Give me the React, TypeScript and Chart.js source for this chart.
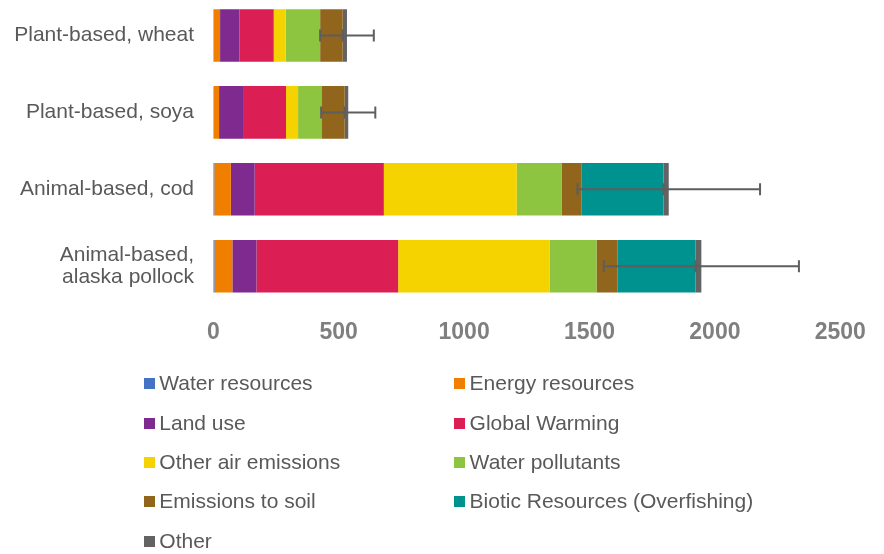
import React, { useEffect, useRef } from "react";
import { Chart, registerables } from "chart.js";

Chart.register(...registerables);

// Products compared (the last label wraps onto two lines)
const categories: (string | string[])[] = [
  "Plant-based, wheat",
  "Plant-based, soya",
  "Animal-based, cod",
  ["Animal-based,", "alaska pollock"],
];

// Impact contributions per product, in the order of the categories above
const waterResources = [2, 2, 4, 5];
const energyResources = [25, 21, 66, 71];
const landUse = [77, 99, 95, 96];
const globalWarming = [137, 168, 515, 565];
const otherAirEmissions = [48, 48, 530, 605];
const waterPollutants = [137, 93, 180, 186];
const emissionsToSoil = [90, 93, 79, 83];
const bioticResources = [0, 0, 326, 312];
const otherImpacts = [17, 14, 21, 23];

// Symmetric uncertainty around each product's total
const uncertainty = [107, 108, 364, 389];

const axisTicks = [0, 500, 1000, 1500, 2000, 2500];

const series = [
  { label: "Water resources", values: waterResources, color: "#4472C4" },
  { label: "Energy resources", values: energyResources, color: "#F07F00" },
  { label: "Land use", values: landUse, color: "#7F2A8F" },
  { label: "Global Warming", values: globalWarming, color: "#DB1F55" },
  { label: "Other air emissions", values: otherAirEmissions, color: "#F5D300" },
  { label: "Water pollutants", values: waterPollutants, color: "#8DC540" },
  { label: "Emissions to soil", values: emissionsToSoil, color: "#91651C" },
  { label: "Biotic Resources (Overfishing)", values: bioticResources, color: "#00928F" },
  { label: "Other", values: otherImpacts, color: "#636363" },
];

const FONT = "'Liberation Sans', Arial, Helvetica, sans-serif";

const errorBarPlugin = {
  id: "errorBars",
  afterDatasetsDraw(chart: any) {
    const { ctx } = chart;
    const x = chart.scales.x;
    const y = chart.scales.y;
    ctx.save();
    ctx.strokeStyle = "#5E5E5E";
    ctx.lineWidth = 2;
    categories.forEach((_, i) => {
      const total = series.reduce((sum, s) => sum + s.values[i], 0);
      const yc = y.getPixelForValue(i);
      const xl = x.getPixelForValue(total - uncertainty[i]);
      const xr = x.getPixelForValue(total + uncertainty[i]);
      const xm = x.getPixelForValue(total - otherImpacts[i]);
      ctx.beginPath();
      ctx.moveTo(xl, yc);
      ctx.lineTo(xr, yc);
      for (const cx of [xl, xr, xm]) {
        ctx.moveTo(cx, yc - 6);
        ctx.lineTo(cx, yc + 6);
      }
      ctx.stroke();
    });
    ctx.restore();
  },
};

function ImpactChart() {
  const canvasRef = useRef<HTMLCanvasElement | null>(null);

  useEffect(() => {
    if (!canvasRef.current) return;
    const chart = new Chart(canvasRef.current, {
      type: "bar",
      data: {
        labels: categories,
        datasets: series.map((s) => ({
          label: s.label,
          data: s.values,
          backgroundColor: s.color,
          borderWidth: 0,
          barPercentage: 0.683,
          categoryPercentage: 1,
        })),
      },
      options: {
        indexAxis: "y",
        responsive: false,
        devicePixelRatio: 1,
        animation: false,
        layout: { padding: { left: 0, right: 43.7, top: 0, bottom: 0 } },
        plugins: {
          legend: { display: false },
          tooltip: { enabled: false },
        },
        scales: {
          x: {
            type: "linear",
            stacked: true,
            min: 0,
            max: 2500,
            grid: { display: false, drawTicks: false },
            border: { display: false },
            ticks: {
              padding: 13.8,
              color: "#7F7F7F",
              font: { family: FONT, size: 23, weight: "bold" },
              callback: (v: any) => String(v),
            },
            afterBuildTicks(scale: any) {
              scale.ticks = axisTicks.map((v) => ({ value: v }));
            },
            afterFit(scale: any) {
              scale.height = 52.3;
              scale.paddingLeft = 0;
              scale.paddingRight = 0;
            },
          },
          y: {
            type: "category",
            stacked: true,
            grid: { display: false, drawTicks: false },
            border: { display: false },
            ticks: {
              padding: 19.3,
              color: "#595959",
              font: { family: FONT, size: 21, lineHeight: 1.05 },
            },
            afterFit(scale: any) {
              scale.width = 213.3;
              scale.paddingTop = 0;
              scale.paddingBottom = 0;
            },
          },
        },
      } as any,
      plugins: [errorBarPlugin],
    });
    return () => chart.destroy();
  }, []);

  return (
    <div style={{ position: "fixed", left: 0, top: -3, width: 884, height: 360 }}>
      <canvas ref={canvasRef} width={884} height={360} style={{ width: 884, height: 360, display: "block" }} />
    </div>
  );
}

function Legend() {
  return (
    <div
      style={{
        position: "fixed",
        left: 0,
        top: 0,
        width: 884,
        height: 554,
        fontFamily: FONT,
        fontSize: 21,
        color: "#595959",
        pointerEvents: "none",
      }}
    >
      {series.map((s, i) => {
        const col = i % 2;
        const row = Math.floor(i / 2);
        return (
          <div
            key={s.label}
            style={{
              position: "absolute",
              left: col === 0 ? 144 : 454.3,
              top: 383.3 + row * 39.35 - 12,
              height: 24,
              display: "flex",
              alignItems: "center",
              whiteSpace: "nowrap",
            }}
          >
            <span
              style={{
                display: "inline-block",
                width: 11,
                height: 11,
                background: s.color,
                marginRight: 4.3,
                marginTop: 1,
              }}
            />
            <span style={{ lineHeight: "24px" }}>{s.label}</span>
          </div>
        );
      })}
    </div>
  );
}

export default function App() {
  return (
    <div style={{ background: "#fff" }}>
      <ImpactChart />
      <Legend />
    </div>
  );
}
